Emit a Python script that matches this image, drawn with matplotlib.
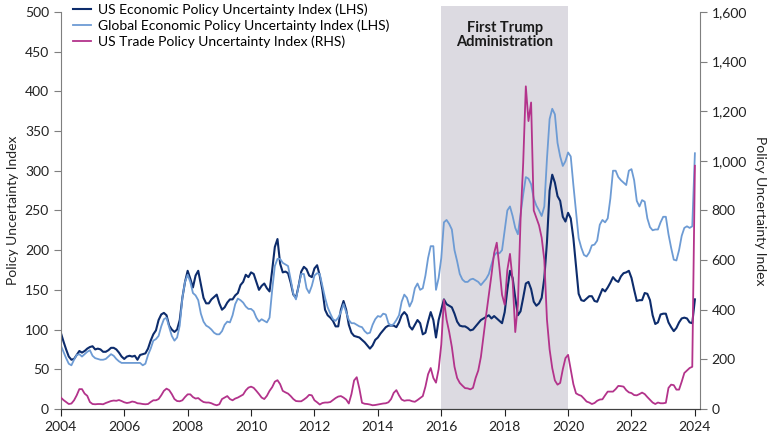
import numpy as np
import matplotlib
matplotlib.use('Agg')
import matplotlib.pyplot as plt
from matplotlib.ticker import FuncFormatter

plt.rcParams['font.family'] = ['Lato', 'DejaVu Sans']

# monthly values, Jan 2004 .. Jan 2024
us_epu = [
    96, 85, 75, 66, 62, 63, 68, 73, 71, 73, 76, 78,
    79, 75, 76, 75, 72, 72, 74, 77, 77, 75, 71, 66,
    63, 66, 67, 66, 67, 62, 68, 69, 70, 76, 86, 94,
    99, 112, 119, 121, 118, 105, 100, 97, 100, 112, 140, 160,
    174, 164, 153, 168, 174, 157, 140, 133, 133, 138, 141, 144,
    133, 125, 128, 134, 138, 138, 143, 146, 156, 160, 169, 166,
    172, 170, 160, 150, 155, 158, 152, 148, 175, 204, 214, 183,
    172, 173, 171, 159, 144, 140, 155, 173, 179, 176, 168, 166,
    177, 181, 168, 150, 125, 118, 115, 111, 104, 104, 125, 136,
    125, 106, 96, 92, 91, 90, 87, 84, 80, 76, 80, 87,
    90, 95, 99, 103, 105, 105, 105, 103, 109, 118, 122, 118,
    104, 100, 106, 112, 108, 94, 96, 110, 122, 112, 90, 112,
    125, 138, 132, 130, 128, 120, 110, 105, 104, 104, 102, 99,
    100, 104, 108, 112, 114, 116, 118, 114, 117, 114, 111, 108,
    122, 150, 174, 165, 140, 118, 123, 140, 158, 160, 151, 135,
    130, 133, 140, 165, 210, 275, 295, 285, 268, 262, 242, 236,
    247, 240, 215, 180, 145, 137, 136, 139, 142, 142, 136, 135,
    143, 151, 148, 153, 159, 166, 162, 160, 167, 171, 172, 174,
    165, 150, 136, 137, 137, 146, 145, 137, 118, 107, 109, 119,
    120, 120, 109, 103, 98, 102, 109, 114, 115, 114, 109, 108,
    138,
]

global_epu = [
    80, 72, 64, 57, 55, 62, 68, 69, 66, 69, 72, 74,
    67, 64, 63, 62, 62, 63, 66, 69, 67, 63, 60, 58,
    58, 58, 58, 58, 58, 58, 58, 55, 57, 68, 76, 86,
    88, 92, 104, 113, 115, 103, 92, 86, 90, 105, 140, 160,
    169, 160, 146, 143, 137, 120, 110, 105, 103, 100, 96, 94,
    94, 98, 106, 110, 109, 118, 132, 139, 137, 134, 129, 126,
    126, 123, 115, 110, 113, 111, 109, 115, 150, 180, 189, 189,
    184, 182, 180, 163, 145, 138, 155, 170, 170, 152, 146, 155,
    168, 171, 170, 155, 140, 128, 120, 113, 111, 115, 122, 132,
    122, 112, 108, 108, 106, 104, 103, 98, 95, 96, 106, 113,
    117, 116, 120, 119, 108, 105, 107, 112, 118, 135, 144, 140,
    129, 136, 152, 158, 150, 152, 168, 190, 205, 205, 150, 165,
    190, 235, 238, 233, 226, 200, 186, 170, 163, 160, 160, 163,
    164, 162, 160, 156, 160, 164, 170, 182, 193, 197, 196, 200,
    225, 250, 255, 243, 228, 220, 245, 270, 292, 290, 283, 265,
    256, 250, 243, 255, 315, 365, 378, 371, 335, 318, 306, 312,
    323, 318, 282, 248, 215, 203, 194, 192, 197, 206, 207, 212,
    232, 238, 235, 240, 265, 300, 300, 292, 288, 285, 282, 300,
    302, 288, 262, 255, 263, 261, 240, 229, 225, 226, 226, 235,
    242, 242, 220, 203, 188, 187, 200, 218, 228, 230, 228, 230,
    322,
]

us_tpu = [
    46, 36, 28, 20, 22, 35, 55, 80, 80, 62, 53, 28,
    20, 19, 20, 20, 19, 24, 28, 32, 34, 33, 36, 32,
    27, 24, 26, 30, 28, 23, 22, 20, 19, 20, 28, 35,
    35, 40, 55, 73, 82, 76, 60, 40, 32, 31, 35, 48,
    59, 59, 48, 42, 44, 35, 28, 26, 26, 23, 18, 15,
    19, 40, 46, 52, 40, 35, 42, 46, 52, 58, 75, 86,
    90, 85, 73, 60, 46, 40, 53, 73, 88, 110, 116, 100,
    73, 67, 62, 52, 40, 32, 31, 31, 38, 46, 57, 55,
    35, 27, 18, 24, 26, 26, 28, 36, 44, 50, 52, 46,
    38, 22, 60, 115, 128, 82, 25, 21, 20, 18, 15, 16,
    18, 20, 22, 23, 27, 40, 65, 76, 55, 38, 33, 35,
    35, 31, 29, 36, 44, 52, 90, 140, 165, 125, 106, 160,
    260, 440, 360, 310, 250, 170, 125, 105, 94, 84, 83, 79,
    85, 125, 155, 210, 295, 380, 460, 540, 628, 670, 570, 460,
    420, 560, 625, 520, 310, 420, 760, 990, 1300, 1160, 1235, 800,
    770, 740, 690, 600, 360, 240, 165, 115, 98, 105, 160, 205,
    218, 160, 100, 63, 57, 53, 42, 30, 26, 20, 24, 33,
    38, 39, 55, 70, 70, 70, 80, 93, 92, 90, 76, 67,
    64, 56, 55, 60, 66, 60, 48, 37, 26, 20, 26, 23,
    23, 25, 85, 98, 96, 78, 78, 110, 145, 155, 165, 170,
    980,
]

years = 2004 + np.arange(len(us_epu)) / 12
year_ticks = list(range(2004, 2025, 2))

navy = '#0d2c6c'
light = '#6d9bd4'
magenta = '#b3338b'
grey = '#7f7f7f'

fig = plt.figure(figsize=(7.8, 4.4), dpi=100)
ax = fig.add_axes([0.078, 0.0705, 0.819, 0.9025])
ax2 = ax.twinx()

# trump shading
ax.axvspan(2016, 2020, ymin=0, ymax=1.015, color='#dcdae1', lw=0, clip_on=False, zorder=0)
ax.text(2018, 489, 'First Trump\nAdministration', ha='center', va='top',
        fontsize=10.5, fontweight='bold', color='#1a1a1a', linespacing=1.05)

l1, = ax.plot(years, us_epu, color=navy, lw=1.5, label='US Economic Policy Uncertainty Index (LHS)')
l2, = ax.plot(years, global_epu, color=light, lw=1.3, label='Global Economic Policy Uncertainty Index (LHS)')
l3, = ax2.plot(years, us_tpu, color=magenta, lw=1.3, label='US Trade Policy Uncertainty Index (RHS)')

ax.set_xlim(2004, 2024.15)
ax.set_ylim(0, 500)
ax2.set_ylim(0, 1600)
ax.set_xticks(year_ticks)
ax.set_yticks(range(0, 501, 50))
ax2.set_yticks(range(0, 1601, 200))
ax2.yaxis.set_major_formatter(FuncFormatter(lambda v, p: f'{int(v):,}'))

for a in (ax, ax2):
    a.spines['top'].set_visible(False)
    a.spines['left'].set_color(grey)
    a.spines['right'].set_color(grey)
    a.spines['bottom'].set_color('#404040')
    a.tick_params(labelsize=10, colors='#222222', length=5)
    a.tick_params(axis='y', color=grey)
ax.spines['right'].set_visible(False)
ax2.spines['left'].set_visible(False)

ax.set_ylabel('Policy Uncertainty Index', fontsize=10, color='#222222', labelpad=4)
ax2.set_ylabel('Policy Uncertainty Index', fontsize=10, color='#222222', rotation=270, labelpad=14)

ax.legend(handles=[l1, l2, l3], loc='upper left', bbox_to_anchor=(0.01, 1.035),
          frameon=False, fontsize=10, handlelength=1.3, handletextpad=0.5,
          labelspacing=0.25, borderaxespad=0)

fig.savefig('out.png', dpi=100)
